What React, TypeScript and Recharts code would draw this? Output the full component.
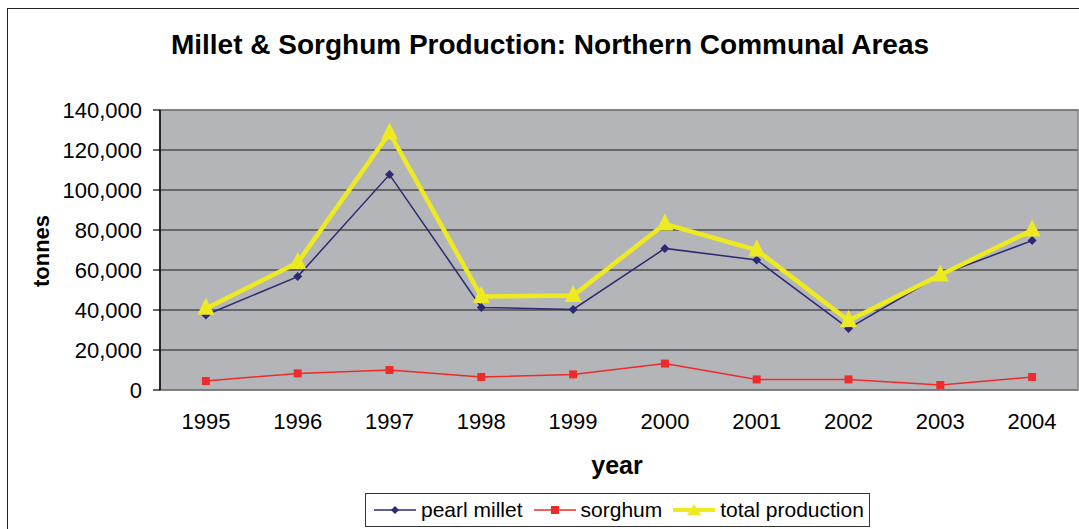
import { LineChart, Line, XAxis, YAxis, CartesianGrid, ReferenceArea } from 'recharts';

// Millet & sorghum production, Northern Communal Areas (tonnes)
const years = [1995, 1996, 1997, 1998, 1999, 2000, 2001, 2002, 2003, 2004];
const pearlMillet = [37500, 56700, 107700, 41300, 40300, 70800, 65000, 30800, 57500, 74700];
const sorghum = [4500, 8300, 10000, 6500, 7800, 13200, 5300, 5300, 2500, 6500];
const totalProduction = [40800, 63700, 128500, 46700, 47200, 83000, 70000, 34700, 57500, 80000];
const yTicks = [0, 20000, 40000, 60000, 80000, 100000, 120000, 140000];

const FONT = '"Liberation Sans", Arial, sans-serif';
const NAVY = '#2B2A73';
const RED = '#EE2B2B';
const YELLOW = '#EEEA22';

const data = years.map((year, i) => ({
  year,
  pearl: pearlMillet[i],
  sorghum: sorghum[i],
  total: totalProduction[i],
}));

// tick marks sit between categories, Excel style
const boundaryTicks = [...years.map(y => y - 0.5), years[years.length - 1] + 0.5];
const xDomain: [number, number] = [boundaryTicks[0], boundaryTicks[boundaryTicks.length - 1]];

const Diamond = (props: any) => {
  const { cx, cy } = props;
  if (cx == null || cy == null) return null;
  const r = 4.5;
  return <polygon points={`${cx},${cy - r} ${cx + r},${cy} ${cx},${cy + r} ${cx - r},${cy}`} fill={NAVY} />;
};

const Square = (props: any) => {
  const { cx, cy } = props;
  if (cx == null || cy == null) return null;
  return <rect x={cx - 4} y={cy - 4} width={8} height={8} fill={RED} />;
};

const Triangle = (props: any) => {
  const { cx, cy } = props;
  if (cx == null || cy == null) return null;
  const h = 17;
  const w = 8.5;
  return <polygon points={`${cx},${cy - h * 0.62} ${cx + w},${cy + h * 0.38} ${cx - w},${cy + h * 0.38}`} fill={YELLOW} />;
};

const legendItems = [
  { label: 'pearl millet', color: NAVY, width: 1.5, shape: 'diamond' },
  { label: 'sorghum', color: RED, width: 1.5, shape: 'square' },
  { label: 'total production', color: YELLOW, width: 4, shape: 'triangle' },
];

function LegendIcon({ color, width, shape }: { color: string; width: number; shape: string }) {
  return (
    <svg width={42} height={14} style={{ marginRight: 5 }}>
      <line x1={0} y1={7} x2={42} y2={7} stroke={color} strokeWidth={width} />
      {shape === 'diamond' && <polygon points="21,3 25,7 21,11 17,7" fill={color} />}
      {shape === 'square' && <rect x={17} y={3} width={8} height={8} fill={color} />}
      {shape === 'triangle' && <polygon points="21,1 28,12 14,12" fill={color} />}
    </svg>
  );
}

export default function App() {
  return (
    <div style={{ position: 'absolute', left: 0, top: 0, width: 1079, height: 529, overflow: 'hidden', background: '#fff', fontFamily: FONT }}>
      <div style={{ position: 'absolute', left: 7, top: 8, width: 1100, height: 540, border: '1.5px solid #222' }} />
      <div style={{ position: 'absolute', left: 0, width: 1100, top: 31, lineHeight: 1, textAlign: 'center', fontSize: 28, fontWeight: 'bold', color: '#000' }}>
        Millet &amp; Sorghum Production: Northern Communal Areas
      </div>
      <div style={{ position: 'absolute', left: 42, top: 251, transform: 'translate(-50%, -50%) rotate(-90deg)', lineHeight: 1, fontSize: 22, fontWeight: 'bold', color: '#000' }}>
        tonnes
      </div>
      <div style={{ position: 'absolute', left: 617, top: 465, transform: 'translate(-50%, -50%)', lineHeight: 1, fontSize: 25, fontWeight: 'bold', color: '#000' }}>
        year
      </div>

      <div style={{ position: 'absolute', left: 0, top: 0 }}>
        <LineChart width={1079} height={529} data={data} margin={{ top: 110, right: 1, left: 0, bottom: 39 }}>
          <CartesianGrid xAxisId="lab" vertical={false} horizontal fill="#B4B5B9" stroke="#1a1a1a" strokeWidth={1.2} />
          <XAxis
            xAxisId="tk"
            type="number"
            dataKey="year"
            domain={xDomain}
            ticks={boundaryTicks}
            tickFormatter={() => ''}
            height={0}
            tickSize={6}
            axisLine={{ stroke: '#000', strokeWidth: 1.5 }}
            tickLine={{ stroke: '#000', strokeWidth: 1.2 }}
          />
          <XAxis
            xAxisId="lab"
            type="number"
            dataKey="year"
            domain={xDomain}
            ticks={years}
            height={100}
            tickSize={0}
            tickMargin={23}
            axisLine={false}
            tickLine={false}
            tick={{ fontSize: 22, fill: '#000', fontFamily: FONT }}
          />
          <YAxis
            domain={[0, 140000]}
            ticks={yTicks}
            width={160}
            tickSize={7}
            tickMargin={11}
            tickFormatter={(v: number) => v.toLocaleString('en-US')}
            tick={{ fontSize: 22, fill: '#000', fontFamily: FONT }}
            axisLine={{ stroke: '#000', strokeWidth: 1.5 }}
            tickLine={{ stroke: '#000', strokeWidth: 1.2 }}
          />
          <ReferenceArea xAxisId="lab" x1={xDomain[0]} x2={xDomain[1]} y1={0} y2={140000} fill="none" stroke="#808080" strokeWidth={1.5} />
          <Line xAxisId="lab" dataKey="pearl" stroke={NAVY} strokeWidth={1.5} dot={<Diamond />} activeDot={false} isAnimationActive={false} />
          <Line xAxisId="lab" dataKey="sorghum" stroke={RED} strokeWidth={1.5} dot={<Square />} activeDot={false} isAnimationActive={false} />
          <Line xAxisId="lab" dataKey="total" stroke={YELLOW} strokeWidth={4.5} dot={<Triangle />} activeDot={false} isAnimationActive={false} />
        </LineChart>
      </div>

      <div
        style={{
          position: 'absolute', left: 365, top: 493, width: 505, height: 34, boxSizing: 'border-box',
          border: '1.5px solid #333', background: '#fff', display: 'flex', alignItems: 'center', paddingLeft: 8,
          fontSize: 21, color: '#000', whiteSpace: 'nowrap',
        }}
      >
        {legendItems.map(item => (
          <div key={item.label} style={{ display: 'flex', alignItems: 'center', marginRight: 11 }}>
            <LegendIcon color={item.color} width={item.width} shape={item.shape} />
            <span>{item.label}</span>
          </div>
        ))}
      </div>
    </div>
  );
}
